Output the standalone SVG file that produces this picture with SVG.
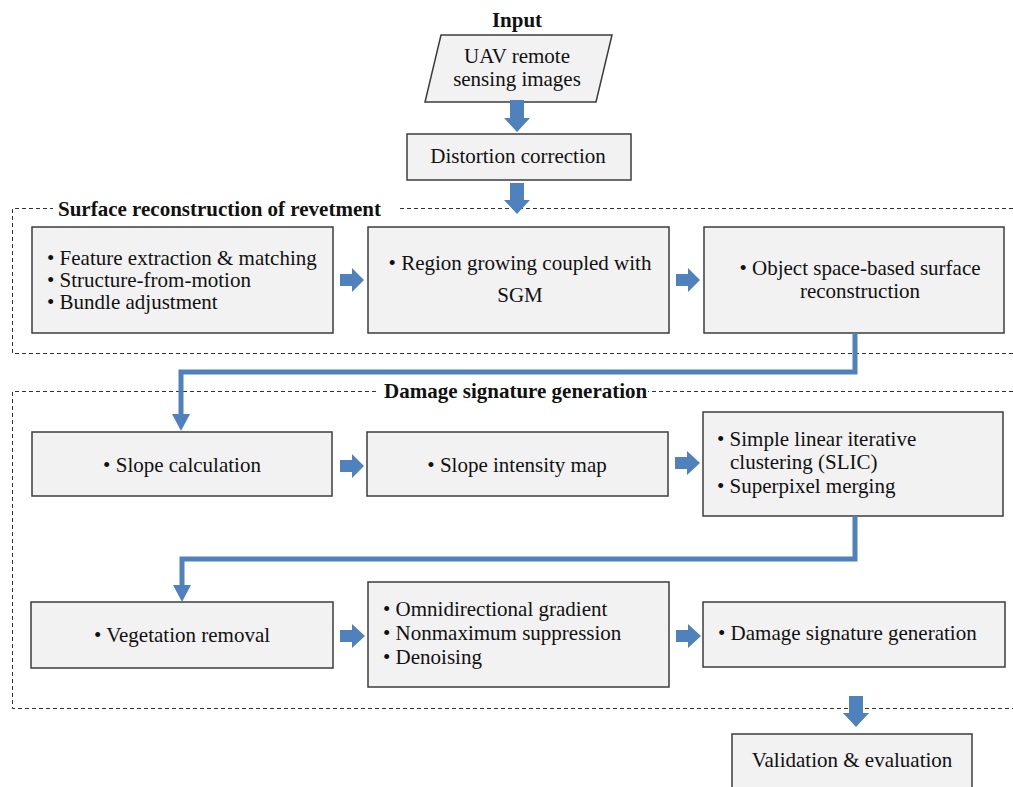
<svg xmlns="http://www.w3.org/2000/svg" width="1013" height="787" viewBox="0 0 1013 787">
<style>
.box{fill:#f2f2f2;stroke:#3c3c3c;stroke-width:1.5}
.t{font-family:"Liberation Serif","Times New Roman",serif;font-size:21px;fill:#111}
.c{text-anchor:middle}
.b{font-weight:bold}
.frame{fill:none;stroke:#333;stroke-width:1;stroke-dasharray:4 3}
.ba{fill:#4f81bd}
.line{fill:none;stroke:#4f81bd;stroke-width:5}
</style>
<rect width="1013" height="787" fill="#fff"/>

<g id="frames">
<path class="frame" d="M1013 208.5H12.5V353.5H1013"/>
<rect x="53" y="198" width="344" height="20" fill="#fff"/>
<text class="t b" x="58" y="216">Surface reconstruction  of revetment</text>
<path class="frame" d="M1013 391.5H12.5V708.5H1013"/>
<rect x="379" y="381" width="269" height="20" fill="#fff"/>
<text class="t b" x="384" y="398">Damage signature generation</text>
</g>

<g id="input-label"><text class="t b c" x="517" y="27">Input</text></g>

<g id="uav">
<polygon class="box" points="441,35 612,35 596,102 425,102"/>
<text class="t c" x="517" y="63">UAV remote</text>
<text class="t c" x="517" y="86">sensing images</text>
</g>

<g id="distortion">
<rect class="box" x="407" y="134" width="224" height="46"/>
<text class="t c" x="518" y="163">Distortion correction</text>
</g>

<g id="feature">
<rect class="box" x="32" y="227" width="301" height="106"/>
<text class="t" x="47" y="265">• Feature extraction &amp; matching</text>
<text class="t" x="47" y="287">• Structure-from-motion</text>
<text class="t" x="47" y="309">• Bundle adjustment</text>
</g>

<g id="region">
<rect class="box" x="368" y="227" width="301" height="106"/>
<text class="t c" x="520" y="270">• Region growing coupled with</text>
<text class="t c" x="520" y="302">SGM</text>
</g>

<g id="object">
<rect class="box" x="704" y="227" width="300" height="106"/>
<text class="t c" x="860" y="275">• Object space-based surface</text>
<text class="t c" x="860" y="298">reconstruction</text>
</g>

<g id="slope">
<rect class="box" x="32" y="432" width="300" height="64"/>
<text class="t c" x="182" y="472">• Slope calculation</text>
</g>

<g id="intensity">
<rect class="box" x="367" y="432" width="301" height="64"/>
<text class="t c" x="517" y="472">• Slope intensity map</text>
</g>

<g id="slic">
<rect class="box" x="703" y="412" width="300" height="104"/>
<text class="t" x="717" y="446">• Simple linear iterative</text>
<text class="t" x="730" y="469">clustering (SLIC)</text>
<text class="t" x="717" y="493">• Superpixel merging</text>
</g>

<g id="vegetation">
<rect class="box" x="31" y="602" width="302" height="66"/>
<text class="t c" x="182" y="642">• Vegetation removal</text>
</g>

<g id="omni">
<rect class="box" x="368" y="582" width="301" height="105"/>
<text class="t" x="383" y="616">• Omnidirectional gradient</text>
<text class="t" x="383" y="640">• Nonmaximum suppression</text>
<text class="t" x="383" y="664">• Denoising</text>
</g>

<g id="damage">
<rect class="box" x="703" y="602" width="302" height="65"/>
<text class="t" x="718" y="640">• Damage signature generation</text>
</g>

<g id="validation">
<rect class="box" x="732" y="734" width="240" height="60"/>
<text class="t c" x="852" y="767">Validation &amp; evaluation</text>
</g>

<g id="connectors">
<polygon class="ba" points="510,100 524,100 524,118 530,118 517,132 504,118 510,118"/>
<polygon class="ba" points="510,183 524,183 524,200 530,200 517,214 504,200 510,200"/>
<polygon class="ba" points="340,274 352,274 352,268 364,280 352,292 352,286 340,286"/>
<polygon class="ba" points="676,274 688,274 688,268 700,280 688,292 688,286 676,286"/>
<path class="line" d="M855 333V372H181V416"/>
<polygon class="ba" points="172,414 190,414 181,431"/>
<polygon class="ba" points="340,460 352,460 352,454 364,466 352,478 352,472 340,472"/>
<polygon class="ba" points="675,457 687,457 687,451 700,463 687,475 687,469 675,469"/>
<path class="line" d="M855 516V559H182V587"/>
<polygon class="ba" points="173,585 191,585 182,602"/>
<polygon class="ba" points="340,630 352,630 352,624 365,636 352,648 352,642 340,642"/>
<polygon class="ba" points="676,630 688,630 688,624 701,636 688,648 688,642 676,642"/>
<polygon class="ba" points="849,696 863,696 863,713 869,713 856,727 843,713 849,713"/>
</g>
</svg>
